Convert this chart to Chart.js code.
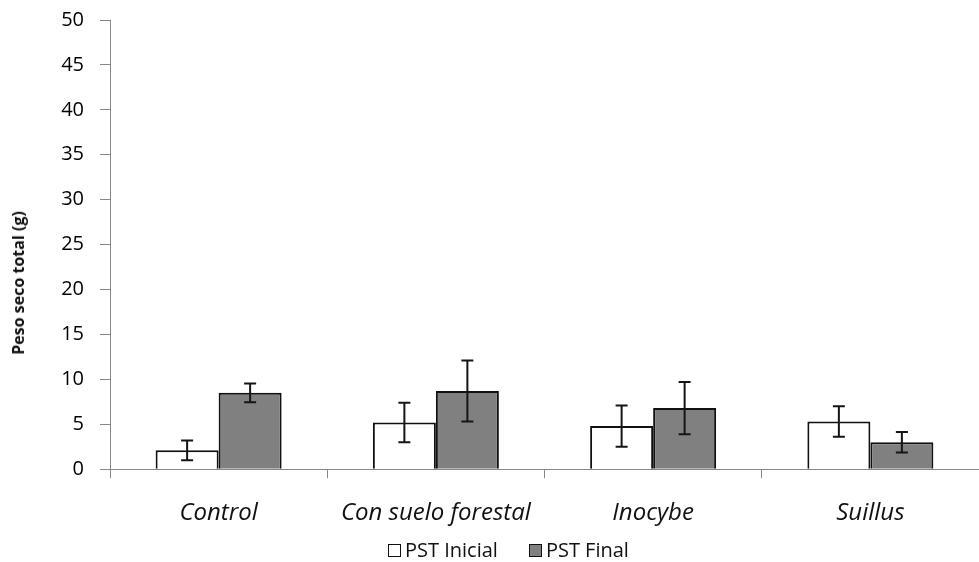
<!DOCTYPE html>
<html>
<head>
<meta charset="utf-8">
<script src="https://cdn.jsdelivr.net/npm/chart.js@4/dist/chart.umd.min.js"></script>
<style>
  html, body { margin: 0; padding: 0; background: #fff; }
  #wrap { position: relative; width: 979px; height: 562px; }
  #legend {
    position: absolute; left: 388px; top: 536px; line-height: 28px;
    display: flex; align-items: center;
    font-family: "Open Sans", sans-serif; font-size: 20px; color: #111;
  }
  .item { display: flex; align-items: center; margin-right: 31px; }
  .box { width: 11px; height: 11px; border: 1.5px solid #111; margin-right: 4px; }
  #ytitle {
    position: absolute; left: 18px; top: 283px;
    transform: translate(-50%, -50%) rotate(-90deg);
    white-space: nowrap;
    font-family: "Open Sans", sans-serif; font-size: 16px; font-weight: bold; color: #111;
  }
</style>
</head>
<body>
<div id="wrap">
  <canvas id="chart" width="979" height="562"></canvas>
  <div id="ytitle">Peso seco total (g)</div>
  <div id="legend">
    <div class="item"><span class="box" style="background:#fff"></span>PST Inicial</div>
    <div class="item"><span class="box" style="background:#808080"></span>PST Final</div>
  </div>
</div>
<script>
// Treatments along the x axis
const categories = ['Control', 'Con suelo forestal', 'Inocybe', 'Suillus'];
// Total dry weight (g), initial and final, with their error bar half-widths
const pstInicial = [2.1, 5.2, 4.8, 5.3];
const pstInicialErr = [1.1, 2.2, 2.3, 1.7];
const pstFinal = [8.5, 8.7, 6.8, 3.0];
const pstFinalErr = [1.05, 3.4, 2.9, 1.15];
const seriesNames = ['PST Inicial', 'PST Final'];
const yMin = 0, yMax = 50, yStep = 5;

const errors = [pstInicialErr, pstFinalErr];

// Draws vertical error bars with caps on top of each bar
const errorBars = {
  id: 'errorBars',
  afterDatasetsDraw(chart) {
    const ctx = chart.ctx;
    const y = chart.scales.y;
    ctx.save();
    ctx.strokeStyle = '#151515';
    ctx.lineWidth = 2;
    chart.data.datasets.forEach((ds, i) => {
      const meta = chart.getDatasetMeta(i);
      meta.data.forEach((bar, j) => {
        const v = ds.data[j], e = errors[i][j];
        const top = y.getPixelForValue(v + e);
        const bot = y.getPixelForValue(v - e);
        const cap = 6;
        ctx.beginPath();
        ctx.moveTo(bar.x, top); ctx.lineTo(bar.x, bot);
        ctx.moveTo(bar.x - cap, top); ctx.lineTo(bar.x + cap, top);
        ctx.moveTo(bar.x - cap, bot); ctx.lineTo(bar.x + cap, bot);
        ctx.stroke();
      });
    });
    ctx.restore();
  }
};

new Chart(document.getElementById('chart'), {
  type: 'bar',
  data: {
    labels: categories,
    datasets: [
      { label: seriesNames[0], data: pstInicial, backgroundColor: '#ffffff',
        borderColor: '#111111', borderWidth: 2, borderSkipped: 'bottom' },
      { label: seriesNames[1], data: pstFinal, backgroundColor: '#808080',
        borderColor: '#111111', borderWidth: 2, borderSkipped: 'bottom' }
    ]
  },
  options: {
    responsive: false,
    animation: false,
    events: [],
    layout: { padding: { top: 20, right: 0, bottom: 13, left: 0 } },
    datasets: { bar: { categoryPercentage: 0.58, barPercentage: 1.0 } },
    plugins: { legend: { display: false }, tooltip: { enabled: false } },
    scales: {
      x: {
        offset: true,
        grid: { offset: true, drawOnChartArea: false, drawTicks: true, tickLength: 9, color: '#888888' },
        border: { display: true, color: '#888888', width: 1 },
        ticks: { color: '#111', padding: 21, font: { family: 'Open Sans', size: 24, style: 'italic' } }
      },
      y: {
        min: yMin, max: yMax,
        afterFit(scale) { scale.width = 110; scale.paddingTop = 0; },
        grid: { drawOnChartArea: false, drawTicks: true, tickLength: 10, color: '#888888' },
        border: { display: true, color: '#888888', width: 1 },
        ticks: { stepSize: yStep, color: '#000', padding: 16, font: { family: 'Open Sans', size: 20 } }
      }
    }
  },
  plugins: [errorBars]
});
</script>
</body>
</html>
